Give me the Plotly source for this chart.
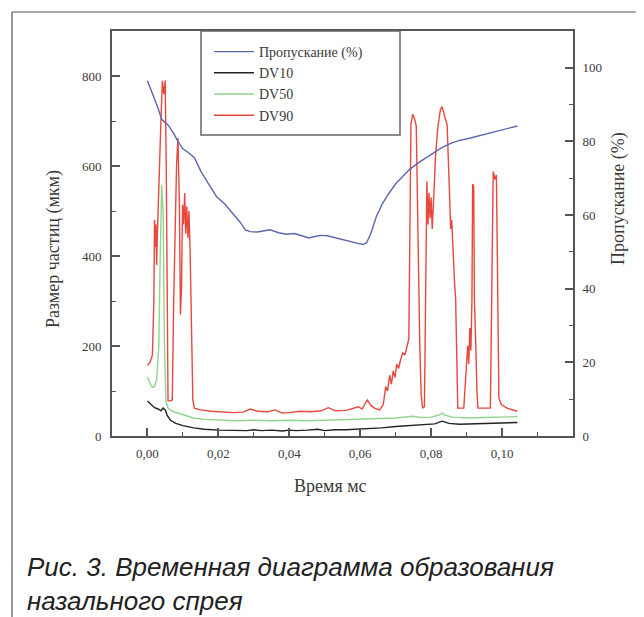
import plotly.graph_objects as go

# ---------------- data ----------------
t_trans = [0.0000, 0.0015, 0.0030, 0.0040, 0.0058, 0.0075, 0.0086, 0.0100, 0.0115, 0.0133,
           0.0150, 0.0171, 0.0195, 0.0218, 0.0245, 0.0262, 0.0276, 0.0290, 0.0310, 0.0330,
           0.0346, 0.0370, 0.0392, 0.0415, 0.0438, 0.0455, 0.0472, 0.0490, 0.0507, 0.0530,
           0.0553, 0.0575, 0.0593, 0.0608, 0.0618, 0.0630, 0.0645, 0.0662, 0.0680, 0.0700,
           0.0714, 0.0740, 0.0770, 0.0806, 0.0830, 0.0855, 0.0880, 0.0905, 0.0930, 0.0960,
           0.0990, 0.1020, 0.1043]
transmission = [96.5, 93.0, 89.0, 86.0, 84.5, 82.0, 80.0, 78.0, 77.0, 75.5,
                72.0, 68.7, 65.0, 63.0, 60.0, 58.0, 56.0, 55.5, 55.4, 55.8,
                56.0, 55.2, 54.8, 55.0, 54.3, 53.8, 54.2, 54.5, 54.4, 53.8,
                53.3, 52.7, 52.3, 52.0, 52.5, 55.0, 59.5, 63.0, 65.8, 68.5,
                70.0, 72.5, 74.6, 76.8, 78.3, 79.5, 80.3, 80.8, 81.4, 82.2,
                82.9, 83.6, 84.2]

t_dv10 = [0.0000, 0.0010, 0.0020, 0.0030, 0.0038, 0.0044, 0.0050, 0.0056, 0.0065, 0.0080,
          0.0100, 0.0130, 0.0160, 0.0200, 0.0250, 0.0280, 0.0300, 0.0320, 0.0350, 0.0380,
          0.0400, 0.0420, 0.0450, 0.0480, 0.0500, 0.0530, 0.0560, 0.0600, 0.0630, 0.0660,
          0.0700, 0.0740, 0.0780, 0.0810, 0.0831, 0.0850, 0.0880, 0.0920, 0.0960, 0.1000,
          0.1043]
dv10 = [78, 70, 63, 60, 56, 62, 58, 45, 35, 28,
        23, 18, 15, 13, 12, 12, 14, 12, 13, 11,
        13, 12, 13, 15, 12, 14, 14, 15, 16, 18,
        21, 23, 24, 27, 33, 28, 26, 27, 28, 29,
        30]

t_dv50 = [0.0000, 0.0008, 0.0014, 0.0020, 0.0026, 0.0032, 0.0036, 0.0040, 0.0044, 0.0048,
          0.0052, 0.0058, 0.0070, 0.0090, 0.0110, 0.0130, 0.0160, 0.0200, 0.0250, 0.0300,
          0.0350, 0.0400, 0.0450, 0.0500, 0.0550, 0.0600, 0.0650, 0.0700, 0.0750, 0.0770,
          0.0800, 0.0820, 0.0831, 0.0840, 0.0860, 0.0900, 0.0950, 0.1000, 0.1043]
dv50 = [131, 115, 108, 110, 125, 200, 400, 558, 500, 200,
        78, 62, 55, 50, 44, 40, 37, 35, 34, 35,
        34, 35, 34, 35, 36, 37, 38, 40, 44, 41,
        42, 46, 51, 46, 42, 40, 41, 42, 43]

t_dv90 = [0.0000, 0.0008, 0.0014, 0.0018, 0.0020, 0.0022, 0.0024, 0.0026, 0.0028, 0.0030,
          0.0034, 0.0038, 0.0042, 0.0046, 0.0050, 0.0053, 0.0056, 0.0058, 0.0064, 0.0070,
          0.0074, 0.0078, 0.0082, 0.0086, 0.0090, 0.0093, 0.0096, 0.0099, 0.0102, 0.0105,
          0.0108, 0.0111, 0.0114, 0.0117, 0.0120, 0.0124, 0.0128, 0.0132, 0.0150, 0.0180,
          0.0210, 0.0240, 0.0270, 0.0290, 0.0310, 0.0340, 0.0360, 0.0380, 0.0400, 0.0430,
          0.0460, 0.0490, 0.0510, 0.0530, 0.0560, 0.0580, 0.0595, 0.0605, 0.0615, 0.0620,
          0.0630, 0.0640, 0.0655, 0.0665, 0.0672, 0.0677, 0.0683, 0.0688, 0.0693, 0.0698,
          0.0703, 0.0708, 0.0714, 0.0720, 0.0726, 0.0732, 0.0737, 0.0740, 0.0743, 0.0748,
          0.0753, 0.0758, 0.0762, 0.0765, 0.0768, 0.0772, 0.0776, 0.0781, 0.0785, 0.0788,
          0.0791, 0.0794, 0.0797, 0.0800, 0.0803, 0.0806, 0.0809, 0.0812, 0.0818, 0.0826,
          0.0831, 0.0838, 0.0845, 0.0850, 0.0855, 0.0858, 0.0862, 0.0866, 0.0869, 0.0872,
          0.0875, 0.0892, 0.0897, 0.0900, 0.0903, 0.0906, 0.0909, 0.0912, 0.0915, 0.0917,
          0.0920, 0.0922, 0.0924, 0.0926, 0.0929, 0.0932, 0.0967, 0.0971, 0.0975, 0.0980,
          0.0984, 0.0988, 0.0991, 0.0998, 0.1014, 0.1043]
dv90 = [157, 165, 180, 300, 480, 420, 470, 380, 450, 520,
        600, 700, 789, 760, 790, 600, 150, 78, 78, 80,
        300, 480, 600, 662, 520, 270, 330, 514, 470, 540,
        450, 510, 440, 500, 420, 250, 80, 62, 58, 55,
        54, 52, 53, 60, 55, 54, 58, 51, 52, 55,
        54, 56, 63, 56, 57, 62, 65, 60, 72, 80,
        68, 62, 58, 70, 110, 100, 135, 115, 145, 130,
        160, 150, 170, 185, 180, 200, 215, 450, 692, 715,
        705, 690, 500, 290, 200, 90, 62, 65, 300, 566,
        470, 540, 484, 530, 460, 500, 560, 618, 680, 725,
        732, 710, 692, 580, 460, 480, 400, 340, 307, 150,
        62, 62, 120, 150, 200, 160, 240, 190, 300, 560,
        555, 300, 260, 200, 100, 62, 62, 350, 588, 570,
        580, 300, 84, 70, 62, 55]

x_tickvals = [0.00, 0.02, 0.04, 0.06, 0.08, 0.10]
x_ticktext = ["0,00", "0,02", "0,04", "0,06", "0,08", "0,10"]
y1_tickvals = [0, 200, 400, 600, 800]
y2_tickvals = [0, 20, 40, 60, 80, 100]

# ---------------- layout geometry (pixels) ----------------
W, H = 644, 617
L, R, T, B = 104, 565, 23, 428


def px(xp):
    return (xp - L) / (R - L)


def py(yp):
    return (B - yp) / (B - T)


serif = "Liberation Serif, Times New Roman, serif"
axis_col = "#555555"
txt_col = "#3a3a3a"

fig = go.Figure()
fig.add_trace(go.Scatter(x=t_trans, y=transmission, name="Пропускание (%)", mode="lines",
                         line=dict(color="#5b68ad", width=1.4), yaxis="y2"))
fig.add_trace(go.Scatter(x=t_dv10, y=dv10, name="DV10", mode="lines",
                         line=dict(color="#222222", width=1.4)))
fig.add_trace(go.Scatter(x=t_dv50, y=dv50, name="DV50", mode="lines",
                         line=dict(color="#8fd48f", width=1.4)))
fig.add_trace(go.Scatter(x=t_dv90, y=dv90, name="DV90", mode="lines",
                         line=dict(color="#e8473d", width=1.4)))

tickfont = dict(family=serif, size=13, color=txt_col)

fig.update_layout(
    width=W, height=H,
    margin=dict(l=L, r=W - R, t=T, b=H - B, pad=0),
    paper_bgcolor="white", plot_bgcolor="white",
    showlegend=True,
    legend=dict(x=px(201), y=py(28), xanchor="left", yanchor="top",
                bgcolor="rgba(0,0,0,0)", borderwidth=0,
                font=dict(family=serif, size=14, color=txt_col),
                traceorder="normal", itemwidth=40),
    xaxis=dict(range=[-0.01, 0.12], tickvals=x_tickvals, ticktext=x_ticktext,
               ticks="inside", ticklen=8, tickwidth=1.5, tickcolor=axis_col,
               minor=dict(dtick=0.01, tick0=0, ticks="inside", ticklen=4, tickcolor=axis_col, tickwidth=1.2),
               showline=True, linecolor=axis_col, linewidth=2, mirror=True,
               showgrid=False, zeroline=False, tickfont=tickfont, ticklabelstandoff=4),
    yaxis=dict(range=[0, 900], tickvals=y1_tickvals,
               ticks="inside", ticklen=8, tickwidth=1.5, tickcolor=axis_col,
               minor=dict(dtick=100, tick0=0, ticks="inside", ticklen=4, tickcolor=axis_col, tickwidth=1.2),
               showline=True, linecolor=axis_col, linewidth=2,
               showgrid=False, zeroline=False, tickfont=tickfont, ticklabelstandoff=6),
    yaxis2=dict(range=[0, 110], tickvals=y2_tickvals, overlaying="y", side="right",
                ticks="inside", ticklen=8, tickwidth=1.5, tickcolor=axis_col,
                minor=dict(dtick=10, tick0=0, ticks="inside", ticklen=4, tickcolor=axis_col, tickwidth=1.2),
                showline=True, linecolor=axis_col, linewidth=2,
                showgrid=False, zeroline=False, tickfont=tickfont, ticklabelstandoff=5),
)

shapes = [
    # legend frame
    dict(type="rect", xref="paper", yref="paper", x0=px(193), x1=px(392), y0=py(127), y1=py(T),
         line=dict(color="#666666", width=1.5), fillcolor="rgba(0,0,0,0)", layer="above"),
    # page frame lines
    dict(type="line", xref="paper", yref="paper", x0=px(4), x1=px(638), y0=py(4), y1=py(4),
         line=dict(color="#555555", width=1.2)),
    dict(type="line", xref="paper", yref="paper", x0=px(4), x1=px(4), y0=py(4), y1=py(617),
         line=dict(color="#555555", width=1.2)),
    dict(type="line", xref="paper", yref="paper", x0=px(638), x1=px(638), y0=py(4), y1=py(535),
         line=dict(color="#555555", width=1.2)),
]
fig.update_layout(shapes=shapes)

title_font = dict(family=serif, size=18, color=txt_col)
annotations = [
    dict(text="Размер частиц (мкм)", x=px(45), y=py(241), xref="paper", yref="paper",
         textangle=-90, showarrow=False, font=title_font, xanchor="center", yanchor="middle"),
    dict(text="Пропускание (%)", x=px(610), y=py(191), xref="paper", yref="paper",
         textangle=-90, showarrow=False, font=title_font, xanchor="center", yanchor="middle"),
    dict(text="Время мс", x=px(322), y=py(478), xref="paper", yref="paper",
         showarrow=False, font=title_font, xanchor="center", yanchor="middle"),
    dict(text="<i>Рис. 3. Временная диаграмма образования<br>назального спрея</i>",
         x=px(17), y=py(542), xref="paper", yref="paper", showarrow=False,
         xanchor="left", yanchor="top", align="left",
         font=dict(family="Liberation Sans, Arial, sans-serif", size=26, color="#222222")),
]
fig.update_layout(annotations=annotations)

fig.write_html("out.html")
